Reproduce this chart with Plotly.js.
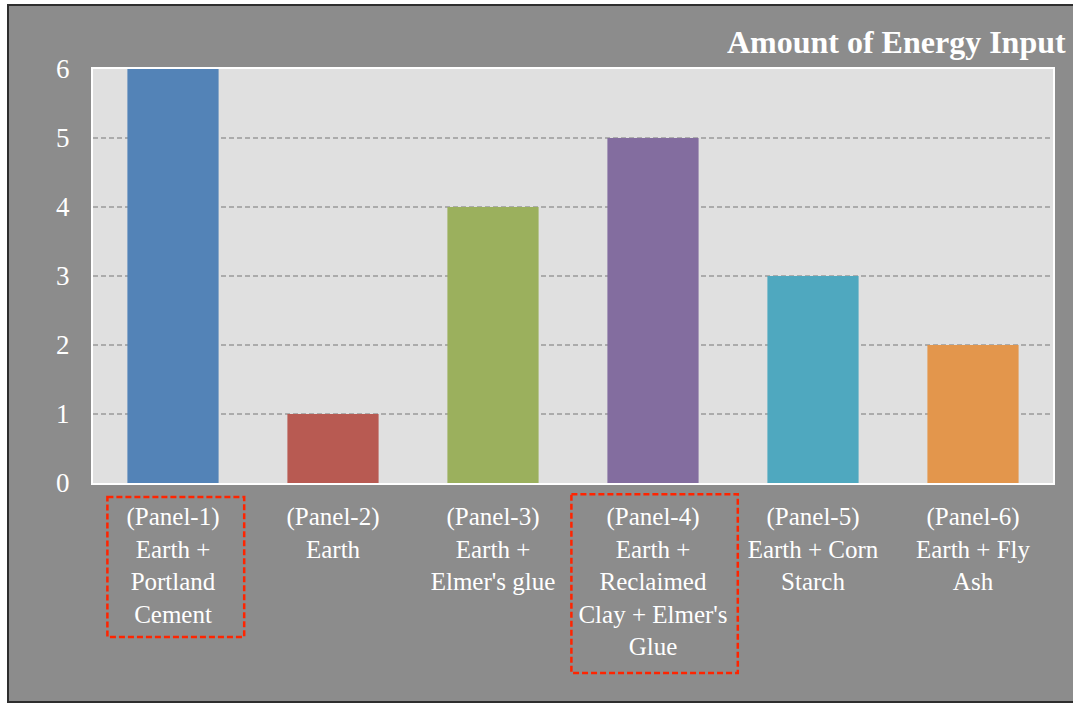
<!DOCTYPE html>
<html>
<head>
<meta charset="utf-8">
<script src="https://cdn.plot.ly/plotly-3.0.1.min.js"></script>
<style>
  html, body { margin: 0; padding: 0; background: #ffffff; overflow: hidden; }
  #frame {
    position: absolute; left: 7px; top: 4px;
    width: 1070px; height: 695px;
    border: 2px solid #2e2e2e;
    background: #8c8c8c;
  }
  #chart { width: 1070px; height: 695px; }
</style>
</head>
<body>
<div id="frame"><div id="chart"></div></div>
<script>
// Energy input per wall panel mix
const panels = [
  "(Panel-1)<br>Earth +<br>Portland<br>Cement",
  "(Panel-2)<br>Earth",
  "(Panel-3)<br>Earth +<br>Elmer's glue",
  "(Panel-4)<br>Earth +<br>Reclaimed<br>Clay + Elmer's<br>Glue",
  "(Panel-5)<br>Earth + Corn<br>Starch",
  "(Panel-6)<br>Earth + Fly<br>Ash"
];
const energyInput = [6, 1, 4, 5, 3, 2];
const barColors = ["#5383b7", "#b85a52", "#9bb05d", "#836d9f", "#4fa8bf", "#e3964c"];
const yTicks = [0, 1, 2, 3, 4, 5, 6];
const highlighted = [0, 3];   // panels outlined with a dashed box

const serif = "'Liberation Serif', 'Times New Roman', serif";

// dashed outlines around the label blocks of the highlighted panels
const boxExtent = [
  { left: 0.41, right: 0.445, top: 0.034, bottom: 0.372 },
  { left: 0.51, right: 0.53, top: 0.027, bottom: 0.459 }
];
const boxes = highlighted.map((idx, k) => ({
  type: "rect", xref: "x", yref: "paper",
  x0: idx - boxExtent[k].left, x1: idx + boxExtent[k].right,
  y0: -boxExtent[k].top, y1: -boxExtent[k].bottom,
  line: { color: "#ff2400", width: 2.5, dash: "6px,3px" },
  fillcolor: "rgba(0,0,0,0)"
}));

const data = [{
  type: "bar",
  x: panels,
  y: energyInput,
  width: 0.57,
  marker: { color: barColors, line: { width: 0 } },
  hoverinfo: "x+y"
}];

const layout = {
  width: 1070, height: 695,
  margin: { l: 84, r: 26, t: 63, b: 218 },
  paper_bgcolor: "#8c8c8c",
  plot_bgcolor: "#e0e0e0",
  showlegend: false,
  font: { family: serif, color: "#ffffff", size: 25 },
  title: {
    text: "<b>Amount of Energy Input</b>",
    font: { family: serif, size: 32, color: "#ffffff" },
    xref: "container", x: 0.9875, xanchor: "right",
    yref: "container", y: 0.949, yanchor: "middle"
  },
  xaxis: {
    type: "category",
    showgrid: false,
    showline: true, linecolor: "#ffffff", linewidth: 2, mirror: true,
    ticks: "", ticklabelstandoff: 10,
    tickfont: { family: serif, size: 25, color: "#ffffff" },
    fixedrange: true
  },
  yaxis: {
    range: [0, 6],
    tickvals: yTicks,
    showgrid: true, gridcolor: "#ababab", gridwidth: 1.5, griddash: "5px,3px",
    showline: true, linecolor: "#ffffff", linewidth: 2, mirror: true,
    zeroline: false,
    ticks: "", ticklabelstandoff: 16,
    tickfont: { family: serif, size: 27, color: "#ffffff" },
    fixedrange: true
  },
  shapes: boxes
};

Plotly.newPlot("chart", data, layout, { displayModeBar: false, staticPlot: true });
</script>
</body>
</html>
